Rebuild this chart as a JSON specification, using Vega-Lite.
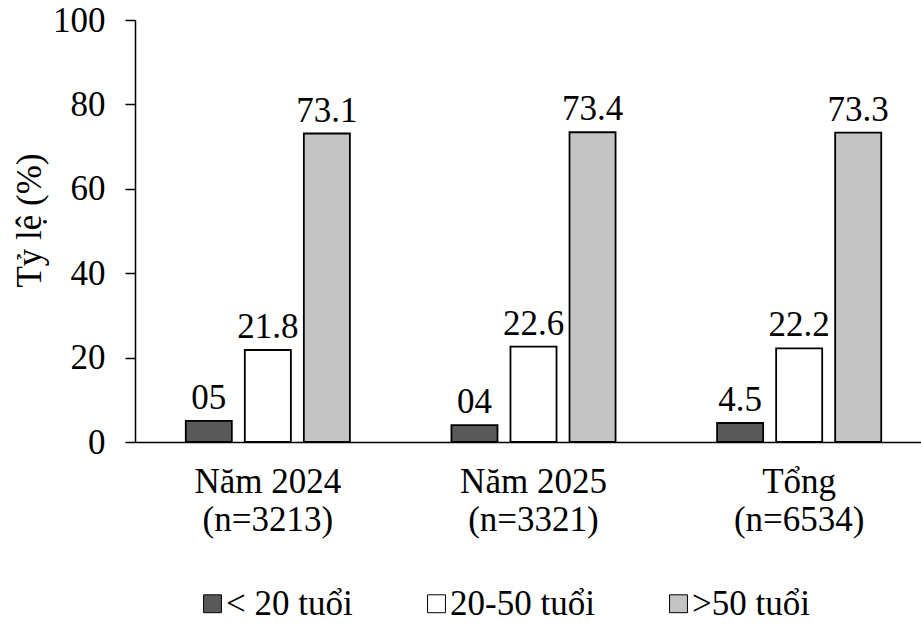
{
  "$schema": "https://vega.github.io/schema/vega-lite/v6.json",
  "autosize": "none",
  "padding": {"left": 135, "top": 20, "right": 0, "bottom": 183},
  "width": 786,
  "height": 422,
  "background": "white",
  "config": {
    "view": {"stroke": null},
    "font": "Liberation Serif",
    "text": {"font": "Liberation Serif"}
  },
  "data": {
    "values": [
      {"nhom": "Năm 2024|(n=3213)", "tuoi": "< 20 tuổi", "tyle": 5, "nhan": "05"},
      {"nhom": "Năm 2024|(n=3213)", "tuoi": "20-50 tuổi", "tyle": 21.8, "nhan": "21.8"},
      {"nhom": "Năm 2024|(n=3213)", "tuoi": ">50 tuổi", "tyle": 73.1, "nhan": "73.1"},
      {"nhom": "Năm 2025|(n=3321)", "tuoi": "< 20 tuổi", "tyle": 4, "nhan": "04"},
      {"nhom": "Năm 2025|(n=3321)", "tuoi": "20-50 tuổi", "tyle": 22.6, "nhan": "22.6"},
      {"nhom": "Năm 2025|(n=3321)", "tuoi": ">50 tuổi", "tyle": 73.4, "nhan": "73.4"},
      {"nhom": "Tổng|(n=6534)", "tuoi": "< 20 tuổi", "tyle": 4.5, "nhan": "4.5"},
      {"nhom": "Tổng|(n=6534)", "tuoi": "20-50 tuổi", "tyle": 22.2, "nhan": "22.2"},
      {"nhom": "Tổng|(n=6534)", "tuoi": ">50 tuổi", "tyle": 73.3, "nhan": "73.3"}
    ]
  },
  "encoding": {
    "x": {
      "field": "nhom",
      "type": "nominal",
      "sort": null,
      "scale": {"range": [0, 797], "paddingInner": 0, "paddingOuter": 0},
      "axis": {
        "title": null,
        "labelAngle": 0,
        "labelExpr": "split(datum.label, '|')",
        "labelFont": "Liberation Serif",
        "labelFontSize": 35,
        "labelColor": "black",
        "labelLineHeight": 38,
        "labelPadding": 22,
        "labelBaseline": "top",
        "ticks": false,
        "domainColor": "black",
        "domainWidth": 1.5
      }
    },
    "xOffset": {
      "field": "tuoi",
      "type": "nominal",
      "sort": ["< 20 tuổi", "20-50 tuổi", ">50 tuổi"],
      "scale": {"paddingInner": 0.22, "paddingOuter": 0.86}
    },
    "y": {
      "field": "tyle",
      "type": "quantitative",
      "scale": {"domain": [0, 100], "nice": false},
      "axis": {
        "title": "Tỷ lệ (%)",
        "titleFont": "Liberation Serif",
        "titleFontSize": 35,
        "titleFontWeight": "normal",
        "titleColor": "black",
        "titlePadding": 5,
        "titleY": 200,
        "values": [0, 20, 40, 60, 80, 100],
        "grid": false,
        "labelFont": "Liberation Serif",
        "labelFontSize": 35,
        "labelColor": "black",
        "labelPadding": 20,
        "tickSize": 10,
        "tickColor": "black",
        "tickWidth": 1.5,
        "domainColor": "black",
        "domainWidth": 1.5
      }
    }
  },
  "layer": [
    {
      "mark": {"type": "bar", "stroke": "black", "strokeWidth": 1.8},
      "encoding": {
        "fill": {
          "field": "tuoi",
          "type": "nominal",
          "sort": ["< 20 tuổi", "20-50 tuổi", ">50 tuổi"],
          "scale": {
            "domain": ["< 20 tuổi", "20-50 tuổi", ">50 tuổi"],
            "range": ["#595959", "#ffffff", "#c4c4c4"]
          },
          "legend": {
            "title": null,
            "orient": "none",
            "direction": "horizontal",
            "legendX": 60,
            "legendY": 566,
            "symbolType": "square",
            "symbolSize": 320,
            "symbolStrokeColor": "black",
            "symbolStrokeWidth": 1,
            "labelFont": "Liberation Serif",
            "labelFontSize": 35,
            "labelColor": "black",
            "labelOffset": -4,
            "columnPadding": 66,
            "labelLimit": 300
          }
        }
      }
    },
    {
      "mark": {
        "type": "text",
        "font": "Liberation Serif",
        "fontSize": 35,
        "color": "black",
        "baseline": "alphabetic",
        "dy": -12
      },
      "encoding": {
        "text": {"field": "nhan", "type": "nominal"}
      }
    }
  ]
}
